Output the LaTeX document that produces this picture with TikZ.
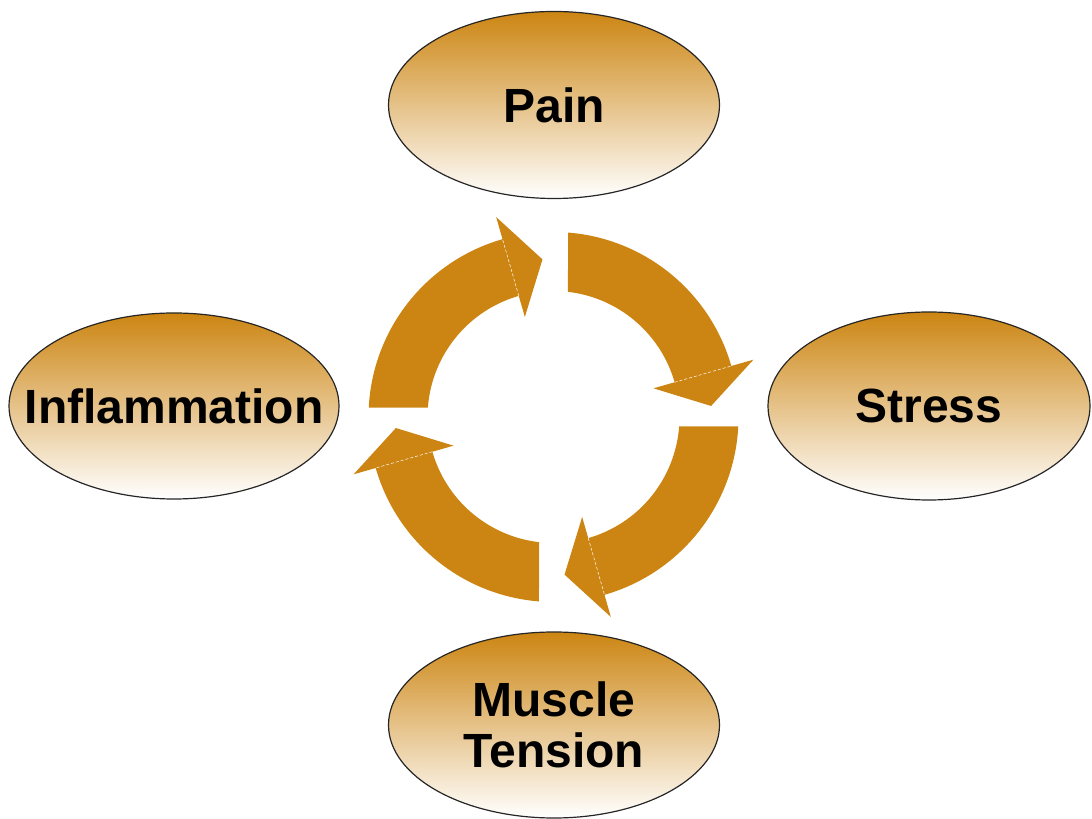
\documentclass[tikz,border=0pt]{standalone}
\usepackage{fontspec}
\setmainfont{Liberation Sans}
\usepackage{tikz}
\usetikzlibrary{shapes.geometric}
\definecolor{ochre}{HTML}{CC8512}
\definecolor{rim}{HTML}{262626}

\begin{document}
\begin{tikzpicture}[x=1pt,y=1pt,
  bubble/.style={ellipse,draw=rim,line width=1.2pt,top color=ochre,bottom color=white,inner sep=0pt},
  lbl/.style={font=\bfseries\fontsize{48}{51}\selectfont,align=center}]
\useasboundingbox (0,0) rectangle (1092,819);
\node[bubble,minimum width=331pt,minimum height=187pt,label={[lbl]center:Pain}] (pain) at (554,714) {};
\node[bubble,minimum width=322pt,minimum height=188pt,label={[lbl]center:Stress}] (stress) at (929,413) {};
\node[bubble,minimum width=331pt,minimum height=186pt,label={[lbl]center:Muscle\\Tension}] (tension) at (554,94) {};
\node[bubble,minimum width=330pt,minimum height=186pt,label={[lbl]center:Inflammation}] (inflam) at (174,413) {};
\coordinate (hub) at (553.5,402);
\foreach \a/\to/\ti in {0/85.5/83.4,90/87.1/85.7,180/85.5/83.4,270/87.1/85.7}{
  \fill[ochre,shift={(hub)}] ({\to-\a}:185pt) arc[start angle=\to-\a,end angle=16-\a,radius=185pt]
    -- ({16-\a}:208pt) -- ({4-\a}:158pt) -- ({16-\a}:104pt) -- ({16-\a}:126pt)
    arc[start angle=16-\a,end angle=\ti-\a,radius=126pt] -- cycle;
  \draw[white,densely dashed,line width=0.5pt,shift={(hub)}] ({16-\a}:126pt) -- ({16-\a}:185pt);
}
\end{tikzpicture}
\end{document}
